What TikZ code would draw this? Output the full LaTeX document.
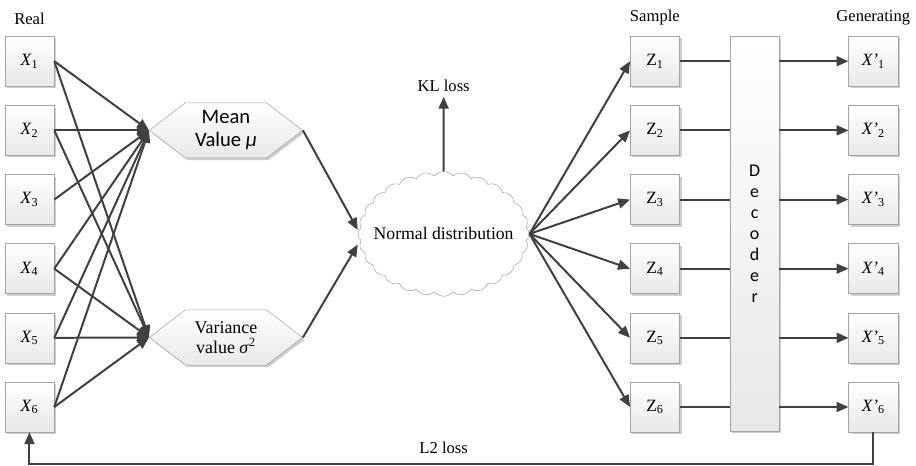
\documentclass[tikz,border=0pt]{standalone}
\usepackage{fontspec}
\setmainfont{Liberation Serif}
\setsansfont{Carlito}
\usetikzlibrary{arrows.meta,positioning,shapes.symbols,shadows}
\definecolor{ink}{RGB}{64,64,64}
\definecolor{frame}{RGB}{165,165,165}
\definecolor{paper}{RGB}{232,232,232}
\tikzset{
  >={Triangle[length=9pt,width=7.5pt]},
  cell/.style={draw=frame,top color=white,bottom color=paper,
    minimum width=1.3cm,minimum height=1.32cm,inner sep=0pt,
    font=\fontsize{13}{15}\selectfont,
    drop shadow={shadow xshift=1.6pt,shadow yshift=-1.6pt,fill=black!35,opacity=0.55}},
  hexa/.style={signal,signal to=west and east,signal pointer angle=75,
    draw=frame,top color=white,bottom color=paper,
    minimum width=4.05cm,minimum height=1.46cm,inner sep=0pt,align=center,
    font=\fontsize{13.5}{15}\selectfont,
    drop shadow={shadow xshift=1.6pt,shadow yshift=-1.6pt,fill=black!35,opacity=0.55}},
  cloudy/.style={cloud,cloud puffs=28,cloud puff arc=100,cloud ignores aspect,
    draw=frame,fill=white,minimum width=4.53cm,minimum height=3.3cm,inner sep=0pt,
    label={[font=\fontsize{13.3}{15}\selectfont]center:#1}},
  tag/.style={font=\fontsize{12.5}{15}\selectfont},
  flow/.style={draw=ink,line width=1.5pt},
}
\begin{document}
\begin{tikzpicture}
  \useasboundingbox (0,0) rectangle (24.24,-12.33);
  % three columns of cells
  \foreach \n in {1,...,6} {
    \pgfmathsetmacro\y{-1.62-1.83*(\n-1)}
    \node[cell] (x\n) at (0.78,\y) {\textit{X}\textsubscript{\n}};
    \node[cell] (z\n) at (17.33,\y) {Z\textsubscript{\n}};
    \node[cell] (xp\n) at (23.11,\y) {\textit{X'}\textsubscript{\n}};
  }
  \node[cell,minimum height=10.44cm,align=center,
    font=\sffamily\fontsize{13.5}{15.75}\selectfont] (dec) at (19.97,-6.19) {D\\e\\c\\o\\d\\e\\r};
  \node[hexa,font=\sffamily\fontsize{15.5}{17.5}\selectfont] (mean) at (5.98,-3.45) {Mean\\Value \textit{μ}};
  \node[hexa] (var) at (5.98,-8.93) {Variance\\value \textit{σ}\textsuperscript{2}};
  \node[cloudy={Normal distribution}] (nd) at (11.74,-6.19) {};
  \node[tag] (kl) at (11.74,-2.28) {KL loss};
  \node[tag] (l2) at (11.74,-11.85) {L2 loss};
  \node[tag,above=5pt of x1] (real) {Real};
  \node[tag,above=5pt of z1] (smp) {Sample};
  \node[tag,above=5pt of xp1] (gen) {Generating};
  \coordinate (bot) at (0,-12.27);
  % encoder
  \foreach \n in {1,...,6} \draw[flow,->] (x\n.east) -- (mean.west);
  \foreach \n in {1,2,4,5,6} \draw[flow,->] (x\n.east) -- (var.west);
  \draw[flow,->] (mean.east) -- ([yshift=3pt]nd.west);
  \draw[flow,->] (var.east) -- ([yshift=-8pt]nd.west);
  \draw[flow,->] (nd.north) -- (kl.south);
  % sampling and decoding
  \foreach \n in {1,...,6} {
    \draw[flow,->] (nd.east) -- (z\n.west);
    \draw[flow] (z\n.east) -- (z\n.east -| dec.west);
    \draw[flow,->] (xp\n.west -| dec.east) -- (xp\n.west);
  }
  \draw[flow,->] (xp6.south) -- (xp6.south |- bot) -- (x6.south |- bot) -- (x6.south);
\end{tikzpicture}
\end{document}
